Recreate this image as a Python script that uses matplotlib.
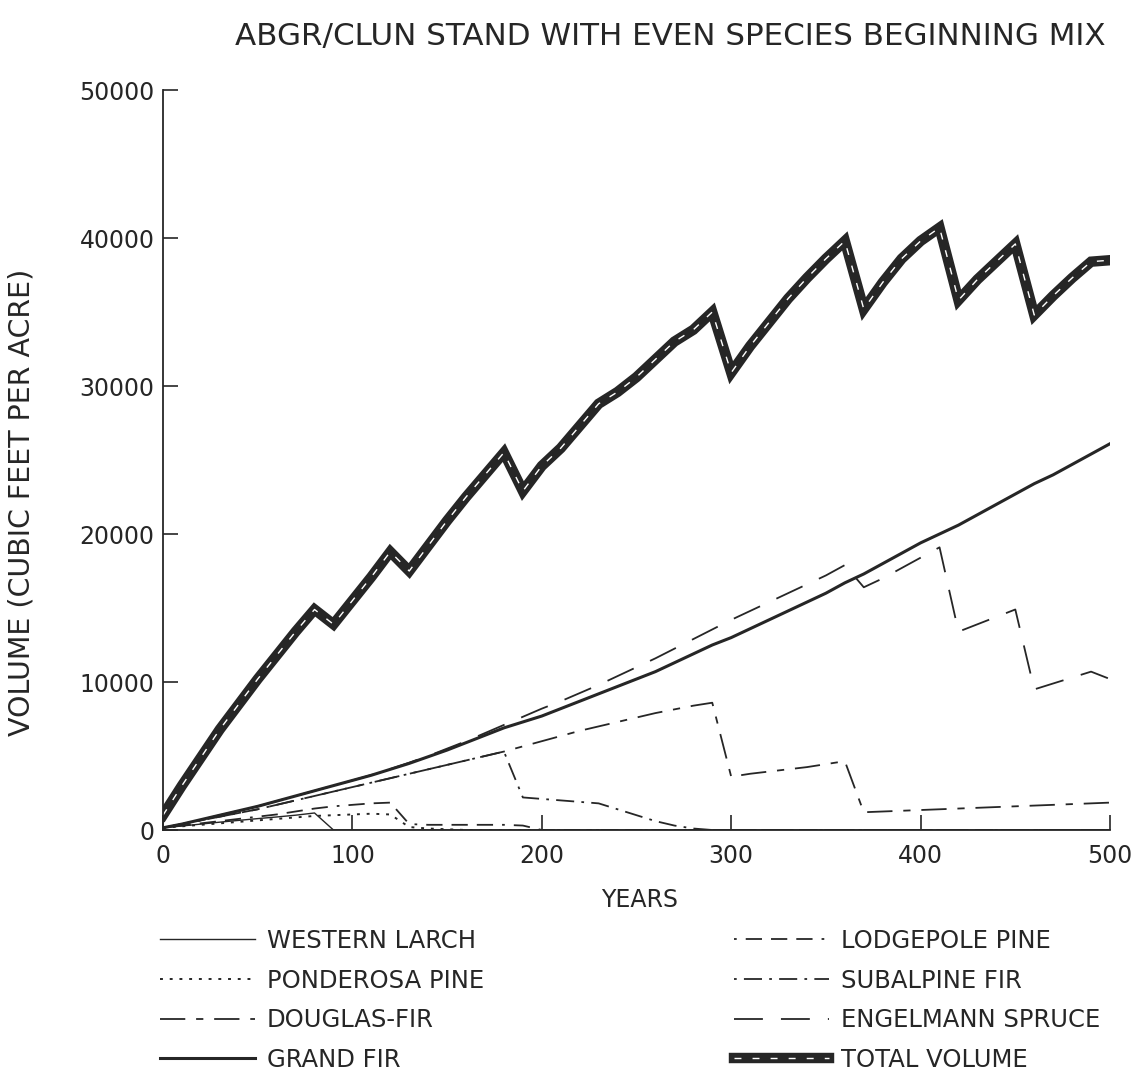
import matplotlib
matplotlib.use("Agg")
import matplotlib.pyplot as plt

# years (10 year steps)
years = list(range(0, 510, 10))

# volumes in cubic feet per acre
western_larch = [150, 270, 400, 530, 650, 770, 880, 1000, 1150, 0] + [0] * 41
ponderosa_pine = [150, 250, 350, 450, 550, 650, 750, 850, 950, 1000,
                  1050, 1100, 1050, 200, 100, 50] + [0] * 35
douglas_fir = [150, 400, 650, 900, 1150, 1400, 1700, 2000, 2300, 2600,
               2900, 3200, 3500, 3800, 4100, 4400, 4700, 5000, 5300, 5650,
               6000, 6350, 6700, 7000, 7300, 7600, 7900, 8150, 8400, 8600,
               3600, 3800, 3950, 4100, 4250, 4450, 4650, 1200, 1250, 1300,
               1350, 1400, 1450, 1500, 1550, 1600, 1650, 1700, 1750, 1800, 1850]
grand_fir = [150, 400, 700, 1000, 1300, 1600, 1950, 2300, 2650, 3000,
             3350, 3700, 4100, 4500, 4950, 5400, 5900, 6400, 6900, 7300,
             7700, 8200, 8700, 9200, 9700, 10200, 10700, 11300, 11900, 12500,
             13000, 13600, 14200, 14800, 15400, 16000, 16700, 17300, 18000, 18700,
             19400, 20000, 20600, 21300, 22000, 22700, 23400, 24000, 24700, 25400, 26100]
lodgepole_pine = [150, 300, 450, 600, 750, 900, 1050, 1250, 1450, 1600,
                  1700, 1800, 1850, 400, 350, 350, 350, 350, 350, 300] + [0] * 31
subalpine_fir = [150, 400, 650, 900, 1150, 1400, 1700, 2000, 2300, 2600,
                 2900, 3200, 3500, 3800, 4100, 4400, 4700, 5000, 5300, 2200,
                 2100, 2000, 1900, 1800, 1400, 1000, 600, 300, 100] + [0] * 22
engelmann_spruce = [150, 400, 700, 1000, 1300, 1600, 1950, 2300, 2650, 3000,
                    3350, 3720, 4120, 4550, 5000, 5500, 6000, 6550, 7100, 7650,
                    8200, 8700, 9250, 9800, 10400, 11000, 11600, 12250, 12900, 13550,
                    14200, 14800, 15400, 16000, 16600, 17200, 17900, 16400, 17000, 17700,
                    18400, 19100, 13400, 13900, 14400, 14900, 9500, 9900, 10300, 10700, 10200]
total_volume = [1000, 3000, 4900, 6800, 8500, 10200, 11800, 13400, 14900, 13900,
                15500, 17100, 18800, 17500, 19200, 20900, 22500, 24000, 25500, 22900,
                24600, 25800, 27300, 28800, 29600, 30600, 31800, 33000, 33800, 35000,
                30900, 32700, 34300, 35900, 37300, 38600, 39800, 35200, 37000, 38600,
                39800, 40700, 35800, 37200, 38400, 39600, 34800, 36100, 37300, 38400, 38500]

ink = "#262626"
plt.rcParams["font.family"] = "DejaVu Sans"

fig = plt.figure(figsize=(11.44, 10.71), dpi=100)
ax = fig.add_axes([163 / 1144, 1 - 830 / 1071, (1110 - 163) / 1144, (830 - 90) / 1071])

wl, = ax.plot(years, western_larch, color=ink, lw=1.0)
pp, = ax.plot(years, ponderosa_pine, color=ink, lw=1.4, linestyle=(0, (1.5, 3.5)))
df, = ax.plot(years, douglas_fir, color=ink, lw=1.3, linestyle=(0, (14, 6, 4, 6)))
gf, = ax.plot(years, grand_fir, color=ink, lw=2.2)
lp, = ax.plot(years, lodgepole_pine, color=ink, lw=1.3,
              linestyle=(0, (1.5, 5, 9, 5, 9, 5, 9, 5)))
sf, = ax.plot(years, subalpine_fir, color=ink, lw=1.3, linestyle=(0, (1.5, 4, 10, 4)))
es, = ax.plot(years, engelmann_spruce, color=ink, lw=1.3, linestyle=(0, (16, 10)))
tv_black, = ax.plot(years, total_volume, color=ink, lw=7.5, solid_joinstyle="miter")
tv_white, = ax.plot(years, total_volume, color="white", lw=1.0, linestyle=(0, (5, 8)))

ax.set_xlim(0, 500)
ax.set_ylim(0, 50000)
ax.set_xticks([0, 100, 200, 300, 400, 500])
ax.set_yticks([0, 10000, 20000, 30000, 40000, 50000])
ax.spines["top"].set_visible(False)
ax.spines["right"].set_visible(False)
for s in ("left", "bottom"):
    ax.spines[s].set_color(ink)
    ax.spines[s].set_linewidth(1.3)
ax.tick_params(direction="in", length=11, width=1.2, colors=ink, labelsize=17)
ax.tick_params(axis="x", pad=10)
ax.tick_params(axis="y", pad=6)

fig.text(670 / 1144, 1 - 36 / 1071, "ABGR/CLUN STAND WITH EVEN SPECIES BEGINNING MIX",
         ha="center", va="center", fontsize=22.3, color=ink)
fig.text(22 / 1144, 1 - 502 / 1071, "VOLUME (CUBIC FEET PER ACRE)", rotation=90,
         ha="center", va="center", fontsize=20.5, color=ink)
fig.text(640 / 1144, 1 - 900 / 1071, "YEARS", ha="center", va="center",
         fontsize=17, color=ink)

leg_kw = dict(loc="upper left", bbox_transform=fig.transFigure, frameon=False,
              fontsize=17.5, handlelength=3.9, handletextpad=0.5, labelspacing=0.64,
              borderpad=0, borderaxespad=0, labelcolor=ink)
leg1 = ax.legend([wl, pp, df, gf],
                 ["WESTERN LARCH", "PONDEROSA PINE", "DOUGLAS-FIR", "GRAND FIR"],
                 bbox_to_anchor=(160 / 1144, 1 - 929 / 1071), **leg_kw)
ax.add_artist(leg1)
ax.legend([lp, sf, es, (tv_black, tv_white)],
          ["LODGEPOLE PINE", "SUBALPINE FIR", "ENGELMANN SPRUCE", "TOTAL VOLUME"],
          bbox_to_anchor=(734 / 1144, 1 - 929 / 1071), **leg_kw)

fig.savefig("out.png", dpi=100)
